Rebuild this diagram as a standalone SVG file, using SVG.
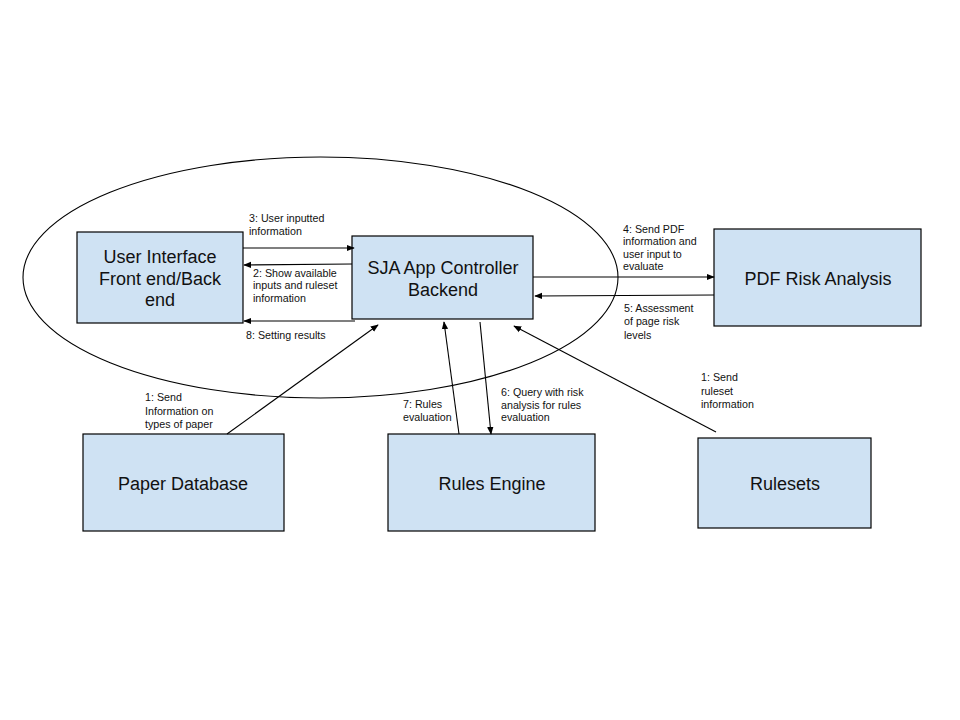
<svg xmlns="http://www.w3.org/2000/svg" width="960" height="720" viewBox="0 0 960 720">
<style>
.box{fill:#cfe2f3;stroke:#000;stroke-width:1.2}
.lbl{font-family:"Liberation Sans",Arial,sans-serif;font-size:18px;fill:#111;text-anchor:middle}
.sm{font-family:"Liberation Sans",Arial,sans-serif;font-size:10.7px;fill:#111}
.ln{stroke:#000;stroke-width:1.1;fill:none}
</style>
<defs>
<marker id="ah" viewBox="0 0 10 10" refX="9" refY="5" markerWidth="8" markerHeight="8" markerUnits="userSpaceOnUse" orient="auto">
<path d="M0,1 L10,5 L0,9 Z" fill="#000"/>
</marker>
</defs>
<rect width="960" height="720" fill="#fff"/>
<ellipse id="boundary" cx="320.5" cy="277.5" rx="297.5" ry="120.5" fill="none" stroke="#000" stroke-width="1.1"/>
<g id="ui"><rect class="box" x="77" y="232" width="166" height="91"/>
<text class="lbl" x="160" y="263">User Interface</text>
<text class="lbl" x="160" y="285">Front end/Back</text>
<text class="lbl" x="160" y="306">end</text></g>
<g id="sja"><rect class="box" x="352" y="236" width="181" height="83"/>
<text class="lbl" x="443" y="274">SJA App Controller</text>
<text class="lbl" x="443" y="296">Backend</text></g>
<g id="pdf"><rect class="box" x="714" y="229" width="207" height="97"/>
<text class="lbl" x="818" y="285">PDF Risk Analysis</text></g>
<g id="paper"><rect class="box" x="83" y="434" width="201" height="97"/>
<text class="lbl" x="183" y="490">Paper Database</text></g>
<g id="rules"><rect class="box" x="388" y="434" width="207" height="97"/>
<text class="lbl" x="492" y="490">Rules Engine</text></g>
<g id="rulesets"><rect class="box" x="698" y="438" width="173" height="90"/>
<text class="lbl" x="785" y="490">Rulesets</text></g>
<g id="connectors">
<line class="ln" x1="243" y1="248" x2="354" y2="248" marker-end="url(#ah)"/>
<line class="ln" x1="352" y1="264" x2="244" y2="265" marker-end="url(#ah)"/>
<line class="ln" x1="355" y1="321" x2="244" y2="321" marker-end="url(#ah)"/>
<line class="ln" x1="533" y1="277" x2="714" y2="277" marker-end="url(#ah)"/>
<line class="ln" x1="714" y1="295" x2="535" y2="296" marker-end="url(#ah)"/>
<line class="ln" x1="227" y1="434" x2="378" y2="325" marker-end="url(#ah)"/>
<line class="ln" x1="459" y1="434" x2="444" y2="322" marker-end="url(#ah)"/>
<line class="ln" x1="480" y1="322" x2="491" y2="434" marker-end="url(#ah)"/>
<line class="ln" x1="716" y1="432" x2="514" y2="326" marker-end="url(#ah)"/>
</g>
<g id="labels">
<text class="sm" x="249" y="222">3: User inputted</text>
<text class="sm" x="249" y="235">information</text>
<text class="sm" x="253" y="277">2: Show available</text>
<text class="sm" x="253" y="289">inputs and ruleset</text>
<text class="sm" x="253" y="302">information</text>
<text class="sm" x="246" y="339">8: Setting results</text>
<text class="sm" x="623" y="233">4: Send PDF</text>
<text class="sm" x="623" y="245">information and</text>
<text class="sm" x="623" y="258">user input to</text>
<text class="sm" x="623" y="270">evaluate</text>
<text class="sm" x="624" y="312">5: Assessment</text>
<text class="sm" x="624" y="325">of page risk</text>
<text class="sm" x="624" y="339">levels</text>
<text class="sm" x="145" y="401">1: Send</text>
<text class="sm" x="145" y="415">Information on</text>
<text class="sm" x="145" y="428">types of paper</text>
<text class="sm" x="403" y="408">7: Rules</text>
<text class="sm" x="403" y="421">evaluation</text>
<text class="sm" x="501" y="396">6: Query with risk</text>
<text class="sm" x="501" y="409">analysis for rules</text>
<text class="sm" x="501" y="421">evaluation</text>
<text class="sm" x="701" y="381">1: Send</text>
<text class="sm" x="701" y="395">ruleset</text>
<text class="sm" x="701" y="408">information</text>
</g>
</svg>
